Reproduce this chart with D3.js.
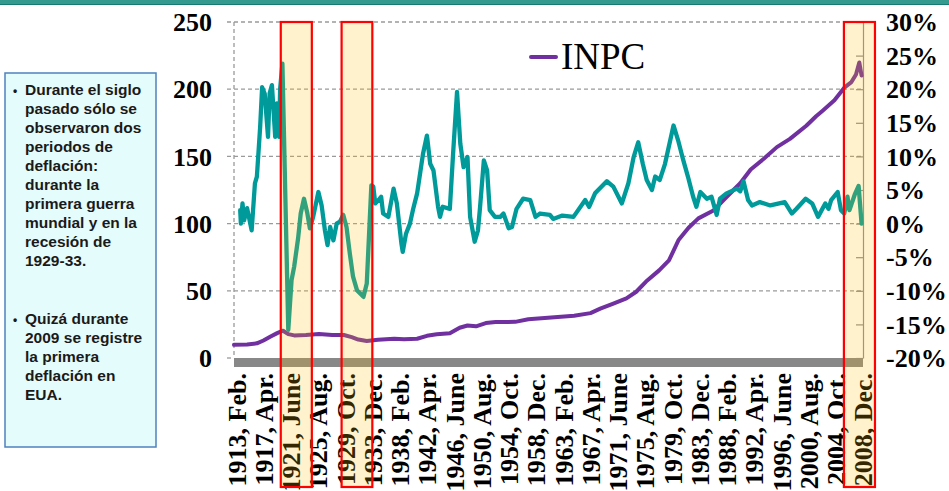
<!DOCTYPE html>
<html>
<head>
<meta charset="utf-8">
<script src="https://cdn.jsdelivr.net/npm/d3@7"></script>
<style>
  body { margin: 0; background: #fff; }
  svg { display: block; }
</style>
</head>
<body>
<script>
// INPC (indice, eje izq.) - lecturas del grafico [año decimal, valor]
const inpc = [
  [1913.0, 9.8], [1915.0, 10.1], [1916.5, 10.9], [1917.5, 13.0], [1918.6, 16.0],
  [1919.6, 18.5], [1920.5, 20.3], [1921.3, 17.8], [1922.2, 16.8], [1924.0, 17.1],
  [1926.0, 17.8], [1928.0, 17.2], [1929.8, 17.1], [1931.0, 15.5], [1932.0, 13.7],
  [1933.3, 12.6], [1935.0, 13.6], [1937.5, 14.4], [1939.0, 13.9], [1941.0, 14.3],
  [1942.5, 16.5], [1944.0, 17.6], [1946.0, 18.5], [1947.5, 22.5], [1948.7, 24.2],
  [1950.0, 23.6], [1951.5, 26.0], [1953.0, 26.7], [1956.0, 26.9], [1958.0, 28.8],
  [1962.0, 30.3], [1965.0, 31.5], [1967.5, 33.4], [1969.0, 36.7], [1971.0, 40.5],
  [1973.0, 44.4], [1974.5, 49.3], [1976.0, 56.9], [1978.0, 65.2], [1979.5, 72.6],
  [1981.0, 88.0], [1982.5, 96.9], [1984.0, 103.9], [1986.3, 109.7], [1988.0, 118.3],
  [1990.4, 130.0], [1992.0, 140.3], [1994.0, 148.2], [1996.0, 156.9], [1998.0, 163.0],
  [2000.5, 172.8], [2002.0, 179.9], [2003.0, 184.0], [2004.8, 191.7], [2006.4, 201.6],
  [2007.4, 205.3], [2008.1, 211.0], [2008.6, 219.9], [2008.95, 210.2]
];

// inflacion anual % (eje der.)
const inflacion = [
  [1913.95, 2.0], [1914.05, 0.0], [1914.3, 3.0], [1914.55, 0.5], [1915.0, 2.3],
  [1915.7, -1.0], [1916.2, 6.0], [1916.5, 7.0], [1917.0, 14.4], [1917.3, 20.3],
  [1917.7, 19.3], [1918.2, 12.9], [1918.45, 19.4], [1918.8, 20.6], [1919.3, 12.9],
  [1919.55, 17.9], [1919.9, 12.9], [1920.05, 20.0], [1920.4, 23.8], [1921.3, -15.8],
  [1921.8, -8.4], [1922.2, -6.4], [1922.8, -2.2], [1923.2, 1.5], [1923.7, 3.7],
  [1924.2, 1.6], [1924.6, -0.7], [1925.1, 1.0], [1925.9, 4.7], [1926.4, 2.7],
  [1926.9, -1.0], [1927.3, -3.2], [1927.7, -0.5], [1928.2, -2.5], [1928.7, 0.0],
  [1929.2, 0.3], [1929.7, 1.3], [1930.2, -0.5], [1930.7, -4.4], [1931.2, -7.9],
  [1931.8, -9.9], [1932.8, -10.9], [1933.3, -8.9], [1934.0, 5.7], [1934.3, 5.5],
  [1934.6, 3.0], [1935.1, 3.5], [1935.5, 4.0], [1935.8, 1.5], [1936.6, 1.0],
  [1937.4, 5.2], [1937.9, 3.0], [1938.6, -3.0], [1938.8, -4.2], [1939.3, -1.5],
  [1939.9, 0.0], [1940.4, 2.2], [1941.0, 4.5], [1941.9, 10.4], [1942.5, 13.1],
  [1943.0, 8.9], [1943.5, 7.9], [1944.2, 2.5], [1944.5, 1.0], [1944.9, 2.5],
  [1946.0, 2.2], [1946.5, 10.4], [1947.1, 19.6], [1947.6, 11.9], [1948.1, 8.4],
  [1948.7, 9.9], [1949.1, 1.0], [1949.8, -2.7], [1950.3, -1.0], [1950.6, 2.2],
  [1951.2, 9.4], [1951.7, 7.9], [1952.1, 2.0], [1952.9, 1.0], [1953.7, 1.0],
  [1954.2, 1.5], [1955.0, -0.7], [1955.5, -0.5], [1956.2, 2.2], [1957.2, 3.7],
  [1958.3, 3.5], [1959.1, 1.0], [1959.8, 1.5], [1961.3, 1.3], [1961.8, 0.7],
  [1963.2, 1.2], [1964.9, 1.0], [1966.7, 3.5], [1967.3, 2.5], [1968.2, 4.5],
  [1970.0, 6.3], [1971.0, 5.5], [1972.3, 3.0], [1973.3, 6.0], [1974.1, 9.9],
  [1974.8, 12.1], [1975.5, 8.9], [1976.1, 6.5], [1976.9, 5.0], [1977.4, 7.0],
  [1978.1, 6.5], [1978.9, 8.9], [1980.2, 14.6], [1980.9, 12.4], [1981.7, 9.4],
  [1982.4, 7.0], [1983.2, 4.0], [1983.7, 2.5], [1984.3, 4.7], [1985.3, 3.7],
  [1986.0, 4.0], [1986.8, 1.3], [1987.3, 3.7], [1988.3, 4.5], [1989.9, 5.2],
  [1990.4, 4.8], [1990.9, 6.3], [1991.6, 3.5], [1992.2, 2.7], [1993.4, 3.2],
  [1995.0, 2.7], [1997.2, 3.2], [1998.3, 1.5], [1999.0, 2.2], [2000.4, 3.7],
  [2001.4, 3.0], [2002.3, 1.0], [2003.4, 3.0], [2003.9, 2.2], [2004.3, 3.5],
  [2005.3, 4.7], [2005.8, 2.0], [2006.3, 1.5], [2006.8, 4.0], [2007.1, 2.0],
  [2007.9, 4.3], [2008.5, 5.6], [2008.95, 0.0]
];

const etiquetasX = ["1913, Feb.", "1917, Apr.", "1921, June", "1925, Aug.", "1929, Oct.",
  "1933, Dec.", "1938, Feb.", "1942, Apr.", "1946, June", "1950, Aug.", "1954, Oct.",
  "1958, Dec.", "1963, Feb.", "1967, Apr.", "1971, June", "1975, Aug.", "1979, Oct.",
  "1983, Dec.", "1988, Feb.", "1992, Apr.", "1996, June", "2000, Aug.", "2004, Oct.",
  "2008, Dec."];
const ticksIzq = [0, 50, 100, 150, 200, 250];
const ticksDer = [-20, -15, -10, -5, 0, 5, 10, 15, 20, 25, 30];

// periodos de deflacion resaltados
const periodos = [[1920.15, 1924.9], [1929.45, 1934.15], [2006.25, 2011.0]];

const notas = [
  ["Durante el siglo", "pasado sólo se", "observaron dos", "periodos de", "deflación:",
   "durante la", "primera guerra", "mundial y en la", "recesión de", "1929-33."],
  ["Quizá durante", "2009 se registre", "la primera", "deflación en", "EUA."]
];

(function() {
  const W = 949, H = 491;
  const pLeft = 234, pRight = 863, pTop = 22, pBottom = 358;
  const serif = "'Times New Roman', 'Liberation Serif', serif";
  const sans = "Arial, 'Liberation Sans', sans-serif";

  const svg = d3.select("body").append("svg").attr("width", W).attr("height", H);

  // barra superior
  svg.append("rect").attr("x", 0).attr("y", 0).attr("width", W).attr("height", 5).attr("fill", "#34998f");
  svg.append("line").attr("x1", 0).attr("x2", W).attr("y1", 4.5).attr("y2", 4.5)
    .attr("stroke", "#167a73").attr("stroke-width", 1);

  const x = d3.scaleLinear().domain([1913, 2009.17]).range([pLeft, pRight]);
  const yL = d3.scaleLinear().domain([0, 250]).range([pBottom, pTop]);
  const yR = d3.scaleLinear().domain([-20, 30]).range([pBottom, pTop]);

  // rejilla punteada
  svg.append("g").selectAll("line").data(ticksIzq).enter().append("line")
    .attr("x1", pLeft - 7).attr("x2", (d) => d === 0 ? pLeft : pRight)
    .attr("y1", (d) => yL(d)).attr("y2", (d) => yL(d))
    .attr("stroke", "#9a9a9a").attr("stroke-width", 1.3).attr("stroke-dasharray", "4,3");
  svg.append("line").attr("x1", pLeft).attr("x2", pLeft).attr("y1", pTop).attr("y2", pBottom)
    .attr("stroke", "#9a9a9a").attr("stroke-width", 1.3).attr("stroke-dasharray", "4,3");

  // eje derecho
  const ejeDer = d3.axisRight(yR).tickValues(ticksDer).tickSize(-7).tickSizeOuter(0).tickFormat("");
  svg.append("g").attr("transform", `translate(${pRight},0)`).call(ejeDer)
    .call((g) => g.selectAll("line, path").attr("stroke", "#8c8c8c").attr("stroke-width", 1.2));

  // barra gris del eje de categorias
  svg.append("rect").attr("x", pLeft).attr("y", pBottom).attr("width", pRight - pLeft).attr("height", 9)
    .attr("fill", "#888888");

  // series
  svg.append("path").datum(inpc)
    .attr("d", d3.line().x((d) => x(d[0])).y((d) => yL(d[1])))
    .attr("fill", "none").attr("stroke", "#7030a0").attr("stroke-width", 4)
    .attr("stroke-linejoin", "round").attr("stroke-linecap", "round");

  svg.append("path").datum(inflacion)
    .attr("d", d3.line().x((d) => x(d[0])).y((d) => yR(d[1])))
    .attr("fill", "none").attr("stroke", "#009a9a").attr("stroke-width", 4.3)
    .attr("stroke-linejoin", "round").attr("stroke-linecap", "round");

  // etiquetas de ejes Y
  svg.append("g").selectAll("text").data(ticksIzq).enter().append("text")
    .attr("x", 212).attr("y", (d) => yL(d)).attr("dy", "0.35em")
    .attr("text-anchor", "end").attr("font-family", serif).attr("font-weight", "bold")
    .attr("font-size", 26).text((d) => d);

  svg.append("g").selectAll("text").data(ticksDer).enter().append("text")
    .attr("x", 886).attr("y", (d) => yR(d)).attr("dy", "0.35em")
    .attr("font-family", serif).attr("font-weight", "bold")
    .attr("font-size", 26).text((d) => d + "%");

  // etiquetas eje X (rotadas)
  const meses = {Feb: 1, Apr: 3, June: 5, Aug: 7, Oct: 9, Dec: 11};
  const fechaEtiqueta = (s) => {
    const p = s.split(", ");
    return +p[0] + meses[p[1].replace(".", "")] / 12;
  };
  svg.append("g").selectAll("text").data(etiquetasX).enter().append("text")
    .attr("transform", (d) => `translate(${x(fechaEtiqueta(d)) + 2},373) rotate(-90)`)
    .attr("dy", "0.35em").attr("text-anchor", "end")
    .attr("font-family", serif).attr("font-weight", "bold").attr("font-size", 26)
    .text((d) => d);

  // rectangulos resaltados
  svg.append("g").selectAll("rect").data(periodos).enter().append("rect")
    .attr("x", (d) => x(d[0])).attr("y", pTop)
    .attr("width", (d) => x(d[1]) - x(d[0])).attr("height", 487 - pTop)
    .attr("fill", "#ffc000").attr("fill-opacity", 0.2)
    .attr("stroke", "#ff0000").attr("stroke-width", 2.2);

  // leyenda
  svg.append("line").attr("x1", 531).attr("x2", 556).attr("y1", 57).attr("y2", 57)
    .attr("stroke", "#7030a0").attr("stroke-width", 4).attr("stroke-linecap", "round");
  svg.append("text").attr("x", 561).attr("y", 69).attr("font-family", serif)
    .attr("font-size", 37).text("INPC");

  // cuadro de notas
  svg.append("rect").attr("x", 5).attr("y", 73).attr("width", 151).attr("height", 374)
    .attr("fill", "#e5fcfc").attr("stroke", "#4f81bd").attr("stroke-width", 1.5);

  const notasG = svg.append("g").attr("font-family", sans).attr("font-weight", "bold")
    .attr("font-size", 15.5).attr("fill", "#1a1a1a");
  notas.forEach((parrafo, i) => {
    const y0 = i === 0 ? 95 : 324;
    notasG.append("text").attr("x", 13).attr("y", y0).attr("font-size", 12).text("•");
    parrafo.forEach((linea, j) => {
      notasG.append("text").attr("x", 25).attr("y", y0 + j * 19).text(linea);
    });
  });
})();
</script>
</body>
</html>
